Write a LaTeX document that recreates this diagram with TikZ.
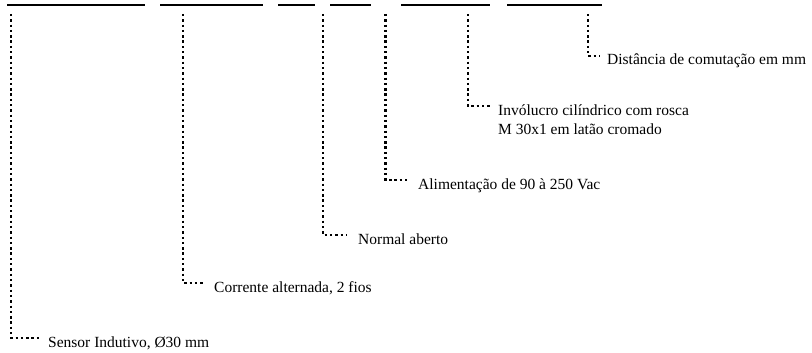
\documentclass[tikz,border=0pt]{standalone}
\usepackage{fontspec}
\setmainfont{Liberation Serif}
\begin{document}
\begin{tikzpicture}[x=1pt,y=-1pt,
  bar/.style={line width=2.2pt},
  dots/.style={line width=2.4pt, dash pattern=on 2.4pt off 2.9pt},
  lbl/.style={anchor=base west, inner sep=0pt, font=\fontsize{15.5}{20}\selectfont, align=left}]
\useasboundingbox (0,0) rectangle (812,353);
% bars
\coordinate (b1a) at (7,5);   \coordinate (b1b) at (145,5);
\coordinate (b2a) at (160,5); \coordinate (b2b) at (263,5);
\coordinate (b3a) at (278,5); \coordinate (b3b) at (315,5);
\coordinate (b4a) at (330,5); \coordinate (b4b) at (371,5);
\coordinate (b5a) at (401,5); \coordinate (b5b) at (490,5);
\coordinate (b6a) at (507,5); \coordinate (b6b) at (602,5);
\foreach \i in {1,...,6} \draw[bar] (b\i a) -- (b\i b);
% start points of leaders
\coordinate (s1) at (11,14);
\coordinate (s2) at (183,14);
\coordinate (s3) at (323,14);
\coordinate (s4) at (385.5,14);
\coordinate (s5) at (468,14);
\coordinate (s6) at (588,14);
% labels
\node[lbl] (t1) at (48,347) {Sensor Indutivo, Ø30 mm};
\node[lbl] (t2) at (214,292) {Corrente alternada, 2 fios};
\node[lbl] (t3) at (358,244) {Normal aberto};
\node[lbl] (t4) at (418,189) {Alimentação de 90 à 250 Vac};
\node[lbl] (t5) at (498,135) {Invólucro cilíndrico com rosca\\M 30x1 em latão cromado};
\node[lbl] (t6) at (607,65) {Distância de comutação em mm};
% end points of leaders
\coordinate (e1) at (40,338);
\coordinate (e2) at (203,283);
\coordinate (e3) at (347,235);
\coordinate (e4) at (408,180);
\coordinate (e5) at (490,106);
\coordinate (e6) at (600,56);
\foreach \i in {1,...,6} \draw[dots] (s\i) |- (e\i);
\end{tikzpicture}
\end{document}
